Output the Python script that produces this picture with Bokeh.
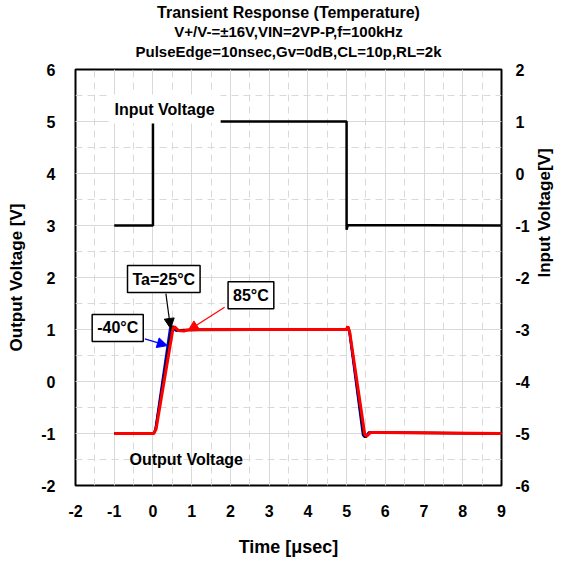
import math
from bokeh.plotting import figure
from bokeh.models import (Range1d, LinearAxis, SingleIntervalTicker, Label, Arrow, NormalHead, Title)
from bokeh.embed import file_html
from bokeh.resources import INLINE

# ---------------- data ----------------
title_text = "Transient Response (Temperature)"
subtitle1 = "V+/V-=±16V,VIN=2VP-P,f=100kHz"
subtitle2 = "PulseEdge=10nsec,Gv=0dB,CL=10p,RL=2k"

x_ticks = list(range(-2, 10))
left_ticks = list(range(-2, 7))
right_ticks = list(range(-6, 3))

# input pulse (right axis, V)
t_in = [-1.0, 0.0, 0.0, 0.03, 5.0, 5.0, 5.03, 9.0]
v_in = [-1.0, -1.0, 1.0, 1.0, 1.0, -1.08, -0.99, -1.0]

# output, -40 degC (left axis, V)
t_m40 = [-1.0, 0.02, 0.06, 0.44, 0.49, 0.58, 0.8, 5.0, 5.03, 5.07, 5.42, 5.47, 5.57, 9.0]
v_m40 = [-1.0, -1.0, -0.93, 1.02, 1.05, 0.98, 0.99, 1.0, 1.05, 0.95, -1.03, -1.07, -0.98, -1.0]

# output, 25 degC
t_25 = [-1.0, 0.02, 0.07, 0.48, 0.52, 0.62, 0.8, 5.0, 5.03, 5.08, 5.44, 5.49, 5.6, 9.0]
v_25 = [-1.0, -1.0, -0.92, 1.03, 1.06, 0.98, 0.99, 1.0, 1.06, 0.95, -1.03, -1.07, -0.98, -1.0]

# output, 85 degC
t_85 = [-1.0, 0.02, 0.08, 0.52, 0.56, 0.66, 0.8, 0.9, 1.2, 5.0, 5.03, 5.08, 5.47, 5.52, 5.62, 5.8, 9.0]
v_85 = [-1.0, -1.0, -0.92, 1.03, 1.05, 0.98, 0.97, 0.99, 1.0, 1.0, 1.06, 0.95, -1.02, -1.05, -0.98, -0.98, -1.0]

FONT = "Liberation Sans"

p = figure(width=566, height=561, output_backend="svg", toolbar_location=None,
           x_range=Range1d(-2, 9), y_range=Range1d(-2, 6),
           min_border_left=75, min_border_right=63, min_border_top=69, min_border_bottom=76)
p.extra_y_ranges = {"right": Range1d(-6, 2)}

p.outline_line_color = "black"
p.outline_line_width = 2
p.background_fill_color = "white"
p.border_fill_color = "white"

# titles (spacer first, closest to the frame)
p.title.text = title_text
p.title.align = "center"
p.title.text_font = FONT
p.title.text_font_style = "bold"
p.title.text_font_size = "16px"
p.title.text_color = "black"
p.title.standoff = 0
p.add_layout(Title(text=" ", text_font_size="7px", standoff=0), "above")
for s in [subtitle2, subtitle1]:
    p.add_layout(Title(text=s, align="center", text_font=FONT, text_font_style="bold",
                       text_color="black", text_font_size="15px", standoff=1), "above")

# axes
p.xaxis.ticker = SingleIntervalTicker(interval=1, num_minor_ticks=2)
p.yaxis.ticker = SingleIntervalTicker(interval=1, num_minor_ticks=2)
p.xaxis.axis_label = "Time [μsec]"
p.yaxis.axis_label = "Output Voltage [V]"
p.xaxis.major_label_overrides = {v: str(v) for v in x_ticks}
p.yaxis.major_label_overrides = {v: str(v) for v in left_ticks}

right_axis = LinearAxis(y_range_name="right", ticker=SingleIntervalTicker(interval=1, num_minor_ticks=2),
                        axis_label="Input Voltage[V]")
right_axis.major_label_overrides = {v: str(v) for v in right_ticks}
right_axis.axis_label_orientation = math.pi / 2
p.add_layout(right_axis, "right")

for ax in [p.xaxis[0], p.yaxis[0], right_axis]:
    ax.axis_line_color = None
    ax.major_tick_in = 0
    ax.major_tick_out = 0
    ax.minor_tick_in = 0
    ax.minor_tick_out = 0
    ax.major_label_text_font = FONT
    ax.major_label_text_font_style = "bold"
    ax.major_label_text_font_size = "16px"
    ax.major_label_text_color = "black"
    ax.axis_label_text_font = FONT
    ax.axis_label_text_font_style = "bold"
    ax.axis_label_text_font_size = "17px"
    ax.axis_label_text_color = "black"
p.xaxis[0].axis_label_text_font_size = "18px"

p.xaxis[0].major_label_standoff = 19
p.xaxis[0].axis_label_standoff = 17
p.yaxis[0].major_label_standoff = 20
p.yaxis[0].axis_label_standoff = 12
right_axis.major_label_standoff = 14
right_axis.axis_label_standoff = 12

# grid
for g in [p.xgrid[0], p.ygrid[0]]:
    g.grid_line_color = "#d9d9d9"
    g.grid_line_width = 1
    g.minor_grid_line_color = "#d9d9d9"
    g.minor_grid_line_dash = "7 5"
    g.minor_grid_line_width = 1

# lines
p.line(t_in, v_in, y_range_name="right", line_color="black", line_width=2.5)
p.line(t_m40, v_m40, line_color="#0000ff", line_width=2.2)
p.line(t_25, v_25, line_color="black", line_width=2.5)
p.line(t_85, v_85, line_color="#ff0000", line_width=3)

# text labels
def txt(x, y, s, box=False, size="16px"):
    kw = dict(x=x, y=y, text=s, text_font=FONT, text_font_style="bold", text_font_size=size,
              text_align="center", text_baseline="middle", text_color="black")
    if box:
        kw.update(background_fill_color="white", border_line_color="black", border_line_width=1.5, padding=5)
    return Label(**kw)

ip = txt(0.30, 5.24, "Input Voltage")
ip.background_fill_color = "white"
ip.padding = 6
p.add_layout(ip)
p.add_layout(txt(0.86, -1.5, "Output Voltage"))

p.add_layout(Arrow(end=NormalHead(size=10, fill_color="black", line_color="black"),
                   x_start=0.334, y_start=1.69, x_end=0.455, y_end=1.02, line_color="black", line_width=1.2))
p.add_layout(Arrow(end=NormalHead(size=10, fill_color="#ff0000", line_color="#ff0000"),
                   x_start=1.85, y_start=1.43, x_end=0.91, y_end=0.98, line_color="#ff0000", line_width=1.2))
p.add_layout(Arrow(end=NormalHead(size=10, fill_color="#0000ff", line_color="#0000ff"),
                   x_start=-0.21, y_start=0.82, x_end=0.37, y_end=0.69, line_color="#0000ff", line_width=1.2))

p.add_layout(txt(0.28, 1.97, "Ta=25°C", box=True))
p.add_layout(txt(2.53, 1.66, "85°C", box=True))
p.add_layout(txt(-0.91, 1.03, "-40°C", box=True))

open("out.html", "w").write(file_html(p, INLINE))
